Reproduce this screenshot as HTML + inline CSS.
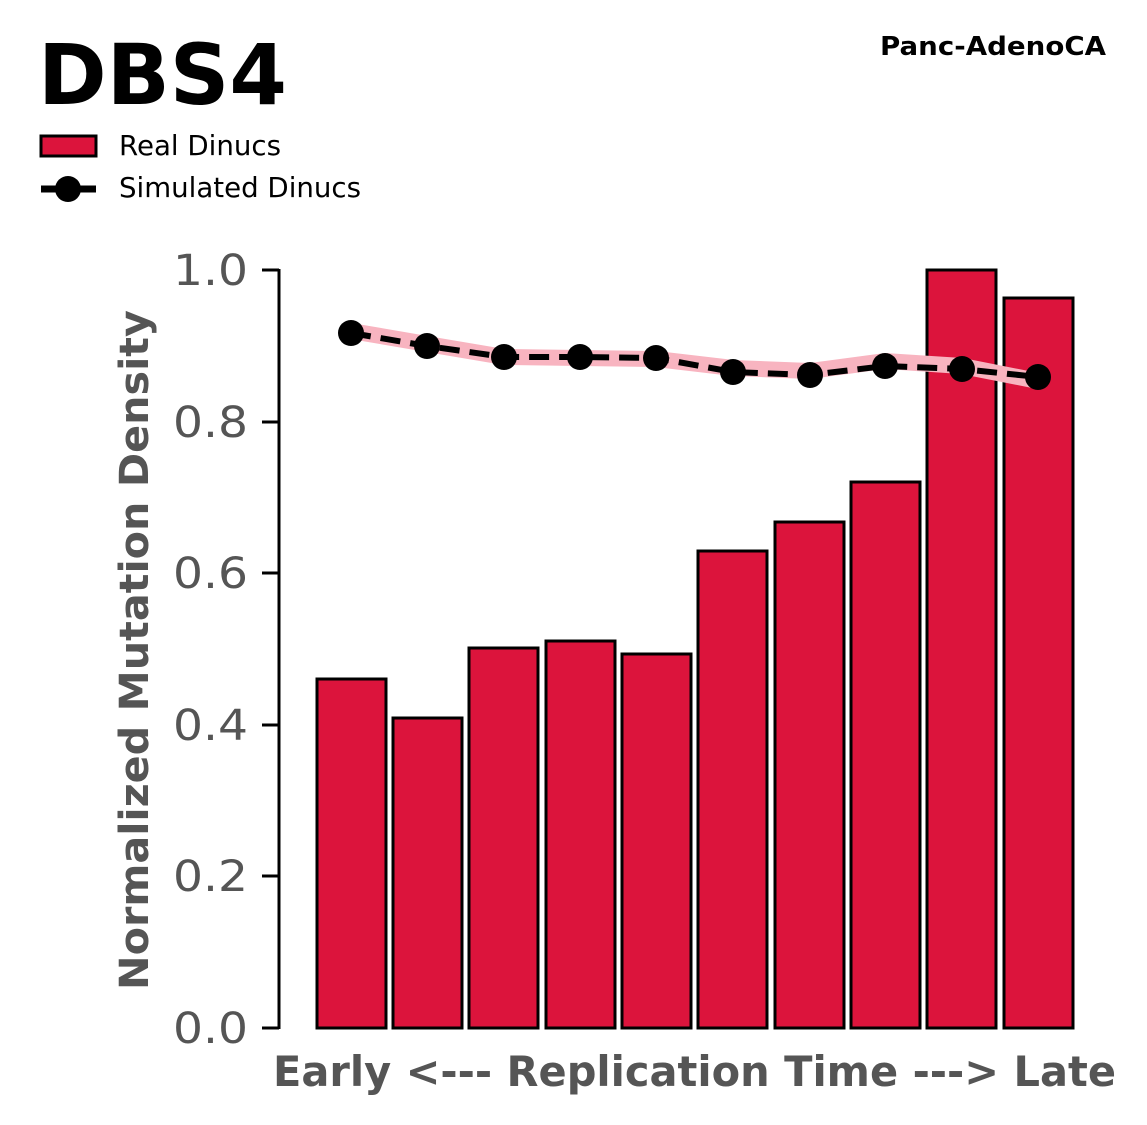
<!DOCTYPE html>
<html><head><meta charset="utf-8"><style>
html,body{margin:0;padding:0;background:#fff;}
svg{display:block;font-family:"DejaVu Sans","Liberation Sans",sans-serif;}
</style></head><body>
<svg width="1147" height="1125" viewBox="0 0 1147 1125" xmlns="http://www.w3.org/2000/svg">
<text x="38" y="104" font-size="84" font-weight="bold" fill="#000" textLength="249" lengthAdjust="spacingAndGlyphs">DBS4</text>
<text x="880" y="55" font-size="26" font-weight="bold" fill="#000" textLength="226" lengthAdjust="spacingAndGlyphs">Panc-AdenoCA</text>
<rect x="41" y="136" width="55" height="20" fill="#DC143C" stroke="#000" stroke-width="3"/>
<text x="119" y="155" font-size="28" fill="#000" textLength="162" lengthAdjust="spacingAndGlyphs">Real Dinucs</text>
<line x1="41" y1="189" x2="96" y2="189" stroke="#000" stroke-width="7"/>
<line x1="58" y1="189" x2="62" y2="189" stroke="#fff" stroke-width="8"/>
<line x1="76" y1="189" x2="80" y2="189" stroke="#fff" stroke-width="8"/>
<circle cx="68" cy="189" r="13" fill="#000"/>
<text x="119" y="197" font-size="28" fill="#000" textLength="242" lengthAdjust="spacingAndGlyphs">Simulated Dinucs</text>
<line x1="279" y1="269" x2="279" y2="1029" stroke="#000" stroke-width="3"/>
<g stroke="#000" stroke-width="3">
<line x1="262" y1="1028" x2="279" y2="1028"/><line x1="262" y1="876" x2="279" y2="876"/>
<line x1="262" y1="725" x2="279" y2="725"/><line x1="262" y1="573" x2="279" y2="573"/>
<line x1="262" y1="422" x2="279" y2="422"/><line x1="262" y1="270" x2="279" y2="270"/>
</g>
<g font-size="43" fill="#555">
<text x="173" y="1043" textLength="75" lengthAdjust="spacingAndGlyphs">0.0</text>
<text x="173" y="891" textLength="75" lengthAdjust="spacingAndGlyphs">0.2</text>
<text x="173" y="740" textLength="75" lengthAdjust="spacingAndGlyphs">0.4</text>
<text x="173" y="588" textLength="75" lengthAdjust="spacingAndGlyphs">0.6</text>
<text x="173" y="437" textLength="75" lengthAdjust="spacingAndGlyphs">0.8</text>
<text x="173" y="285" textLength="75" lengthAdjust="spacingAndGlyphs">1.0</text>
</g>
<text transform="translate(148,990) rotate(-90)" font-size="40" font-weight="bold" fill="#555" textLength="680" lengthAdjust="spacingAndGlyphs">Normalized Mutation Density</text>
<text x="273" y="1086" font-size="42" font-weight="bold" fill="#555" textLength="843" lengthAdjust="spacingAndGlyphs">Early &lt;--- Replication Time ---&gt; Late</text>
<g fill="#DC143C" stroke="#000" stroke-width="3">
<rect x="317" y="679" width="69" height="349"/>
<rect x="393" y="718" width="69" height="310"/>
<rect x="469" y="648" width="69" height="380"/>
<rect x="546" y="641" width="69" height="387"/>
<rect x="622" y="654" width="69" height="374"/>
<rect x="698" y="551" width="69" height="477"/>
<rect x="775" y="522" width="69" height="506"/>
<rect x="851" y="482" width="69" height="546"/>
<rect x="927" y="270" width="69" height="758"/>
<rect x="1004" y="298" width="69" height="730"/>
</g>
<polyline points="351,331 427,344 504,357 580,358 656,359 733,368 810,371 885,361 962,366 1038,381" fill="none" stroke="#F8B4C0" stroke-width="16" stroke-linejoin="round"/>
<polyline points="351,333 427,346 504,357 580,357 656,358 733,372 810,375 885,366 962,369 1038,377" fill="none" stroke="#000" stroke-width="6" stroke-dasharray="20,10"/>
<g fill="#000">
<circle cx="351" cy="333" r="13"/><circle cx="427" cy="346" r="13"/><circle cx="504" cy="357" r="13"/>
<circle cx="580" cy="357" r="13"/><circle cx="656" cy="358" r="13"/><circle cx="733" cy="372" r="13"/>
<circle cx="810" cy="375" r="13"/><circle cx="885" cy="366" r="13"/><circle cx="962" cy="369" r="13"/>
<circle cx="1038" cy="377" r="13"/>
</g>
</svg>
</body></html>
